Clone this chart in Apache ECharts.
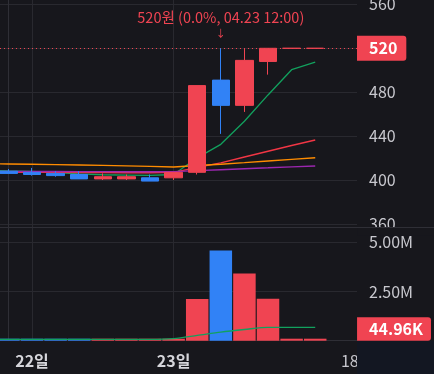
<!DOCTYPE html>
<html><head><meta charset="utf-8">
<script src="https://cdn.jsdelivr.net/npm/echarts@6/dist/echarts.min.js"></script>
<style>html,body{margin:0;padding:0;background:#17171c;}#c{width:434px;height:374px;}</style>
</head><body><div id="c"></div>
<script>
// ---- data ----
const opens  = [408,407,406,405,401,401,402,402,407,491,468,508,520,520];
const closes = [406,405,404,401,403,403,399,407,486,468,509,520,520,520];
const lows   = [406,404,403,401,400,400,399,400,405,442,462,496,520,520];
const highs  = [410,411,408,408,406,405,405,407,486,520,520,520,520,520];
const volumes  = [80000,60000,70000,90000,70000,60000,80000,100000,2120000,4580000,3410000,2130000,100000,44960];
const volumeUp = [0,0,0,0,1,1,1,1,1,0,1,1,1,1];
// moving averages, first value belongs to the candle before the first one shown
const maStartIndex = -1;
const ma5   = [409.0,408.3,407.8,406.8,405.5,404.8,404.5,404.2,405.0,420.2,432.5,453.5,477.5,500.5,507.5];
const ma20  = [407.2,407.1,407.0,406.9,406.8,406.7,406.6,406.6,407.0,411.5,415.6,421.0,426.2,431.4,436.4];
const ma60  = [414.8,414.6,414.3,414.0,413.7,413.3,412.9,412.4,411.9,413.2,414.4,415.8,417.3,418.8,420.3];
const ma120 = [407.8,407.8,407.7,407.7,407.6,407.6,407.5,407.5,407.6,408.5,409.4,410.3,411.1,412.0,412.8];
const volMa = [70000,70000,70000,70000,70000,70000,70000,70000,110000,270000,440000,570000,680000,680000,680000];
const priceTicks = [360,400,440,480,520,560];
const priceLabelTicks = [360,400,440,480,560];
const volumeTicks = [2500000,5000000];
const xLabelPositions = [1,7,14.09];
const xLabelTexts = ['22일','23일','18:00'];
const currentPrice = 520;
const annotationIndex = 9;
const annotationText = '520원 (0.0%, 04.23 12:00)';

// ---- styles ----
const FONT = "'Noto Sans CJK KR','Noto Sans',sans-serif";
const RED = '#f04452', BLUE = '#3182f6';
const BG = '#17171c', GRIDC = '#29292f', AXISC = '#2f2f36';
const X_MIN = -0.356, X_MAX = 14.77;
const P_MIN = 356.9, P_MAX = 564.0;
const V_MAX = 5752000;
const VOL_BADGE_Y = 594000;

const chart = echarts.init(document.getElementById('c'));
const candleData = opens.map((o,i)=>[i,o,closes[i],lows[i],highs[i]]);
const maData = arr => arr.map((v,k)=>[k+maStartIndex,v]);
const fmtVol = v => v >= 1e6 ? (v/1e6).toFixed(2)+'M' : (v/1e3).toFixed(2)+'K';

function maLine(name, arr, color, width){
  return {name, type:'line', xAxisIndex:0, yAxisIndex:0, data:maData(arr), showSymbol:false,
    symbol:'none', lineStyle:{color, width}, z:2, silent:true};
}

chart.setOption({
  backgroundColor: BG,
  animation: false,
  textStyle: {fontFamily: FONT},
  grid: [
    {left:0, right:77, top:0, height:227.3, outerBoundsMode:'none', containLabel:false},
    {left:0, right:77, top:227.5, height:113.2, outerBoundsMode:'none', containLabel:false}
  ],
  xAxis: [
    {type:'value', gridIndex:0, min:X_MIN, max:X_MAX,
      axisLine:{show:false}, axisTick:{show:false, customValues:[1,7]}, axisLabel:{show:false},
      splitLine:{show:true, lineStyle:{color:GRIDC}}},
    {type:'value', gridIndex:1, min:X_MIN, max:X_MAX,
      axisLine:{show:true, lineStyle:{color:AXISC}}, axisTick:{show:false, customValues:[1,7]},
      axisLabel:{show:true, customValues:xLabelPositions, color:'#d6d6db', fontSize:16, fontWeight:'bold',
        fontFamily:FONT, margin:12,
        formatter: v => { const k = xLabelPositions.indexOf(v); const t = xLabelTexts[k];
          return k === 2 ? '{n|'+t+'}' : t; },
        rich:{n:{fontWeight:'normal', fontSize:16, color:'#c8c8ce', fontFamily:FONT, padding:[0,0,0,40]}}},
      splitLine:{show:true, lineStyle:{color:GRIDC}}}
  ],
  yAxis: [
    {type:'value', gridIndex:0, position:'right', min:P_MIN, max:P_MAX,
      axisLine:{show:true, lineStyle:{color:AXISC}}, axisTick:{show:false, customValues:priceTicks},
      axisLabel:{customValues:priceLabelTicks, color:'#c8c8ce', fontSize:16, margin:12, fontFamily:FONT},
      splitLine:{show:true, lineStyle:{color:GRIDC}}},
    {type:'value', gridIndex:1, position:'right', min:0, max:V_MAX,
      axisLine:{show:true, lineStyle:{color:AXISC}}, axisTick:{show:false, customValues:volumeTicks},
      axisLabel:{customValues:volumeTicks, color:'#c8c8ce', fontSize:16, margin:12, fontFamily:FONT,
        formatter: v => fmtVol(v)},
      splitLine:{show:true, lineStyle:{color:GRIDC}}}
  ],
  series: [
    maLine('MA5', ma5, '#12a15e', 1.3),
    maLine('MA20', ma20, '#f23645', 1.4),
    maLine('MA60', ma60, '#ff8c00', 1.4),
    maLine('MA120', ma120, '#9c27b0', 1.4),
    {type:'candlestick', xAxisIndex:0, yAxisIndex:0, data:candleData, barWidth:18, z:5,
      itemStyle:{color:RED, color0:BLUE, borderColor:RED, borderColor0:BLUE, borderWidth:1},
      markLine:{silent:true, symbol:['none','none'], animation:false,
        data:[{yAxis:currentPrice}],
        lineStyle:{color:RED, type:[1,3], width:1},
        label:{show:true, position:'end', distance:0, formatter:String(currentPrice),
          backgroundColor:RED, color:'#ffffff', fontSize:16, fontWeight:'bold', fontFamily:FONT,
          padding:[4,9,4,12], lineHeight:17, borderRadius:[0,3,3,0]},
        emphasis:{disabled:true}},
      markPoint:{silent:true, symbol:'circle', symbolSize:0.1, animation:false,
        data:[{coord:[annotationIndex, highs[annotationIndex]]}],
        label:{show:true, position:'top', distance:9,
          formatter:'{t|'+annotationText+'}\n{a|↓}',
          rich:{t:{color:RED, fontSize:14.5, lineHeight:20, fontFamily:FONT},
                a:{color:RED, fontSize:10, lineHeight:12, fontFamily:FONT}}}}
    },
    {type:'bar', xAxisIndex:1, yAxisIndex:1, barWidth:22.5, barMinHeight:2, z:3,
      data: volumes.map((v,i)=>({value:[i,v], itemStyle:{color: volumeUp[i] ? RED : BLUE}})),
      markPoint:{silent:true, symbol:'circle', symbolSize:0.1, animation:false,
        data:[{coord:[X_MAX, VOL_BADGE_Y], value: volumes[volumes.length-1]}],
        label:{show:true, position:'right', distance:0, formatter: p => fmtVol(p.value),
          backgroundColor:RED, color:'#ffffff', fontSize:16, fontWeight:'bold', fontFamily:FONT,
          padding:[3,8,3,12], lineHeight:17.4, borderRadius:[0,3,3,0]}}
    },
    {type:'line', xAxisIndex:1, yAxisIndex:1, data:maData(volMa), showSymbol:false, symbol:'none',
      smooth:0.3, lineStyle:{color:'#12a15e', width:1.3}, z:4, silent:true}
  ],
  graphic: [
    {type:'rect', z:100, shape:{x:357.5, y:227.5, width:77, height:8}, style:{fill:BG}},
    {type:'rect', z:100, shape:{x:357, y:341, width:77, height:33}, style:{fill:'#131722'}},
    {type:'line', z:101, shape:{x1:0, y1:227.5, x2:434, y2:227.5}, style:{stroke:AXISC, lineWidth:1}}
  ]
});
</script></body></html>
